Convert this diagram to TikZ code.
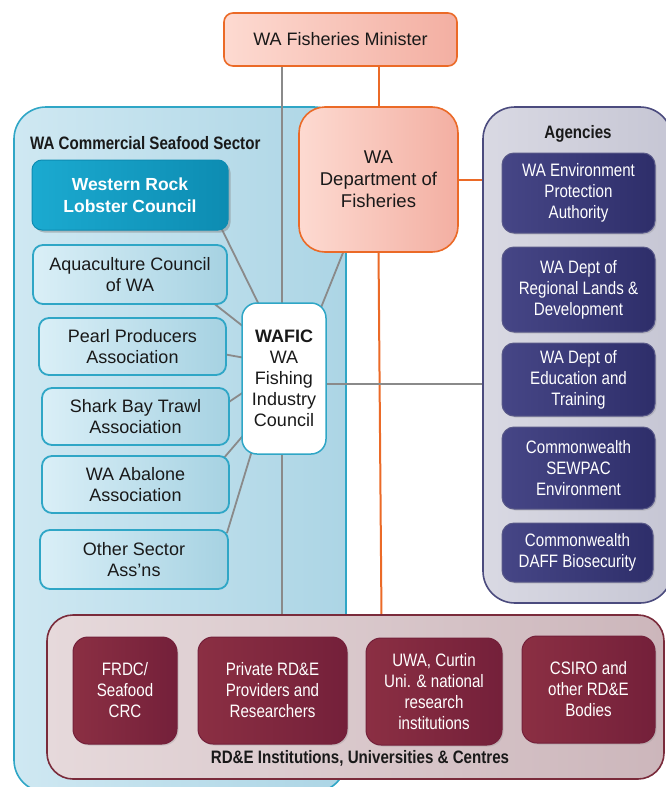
\documentclass[tikz,border=0pt]{standalone}
\usepackage{fontspec}
\setmainfont{Liberation Sans}
\newfontfamily\narf[FakeStretch=0.84]{Liberation Sans}
\usetikzlibrary{calc,shadows}
\pgfdeclarelayer{bg}
\pgfdeclarelayer{lines}
\pgfsetlayers{bg,lines,main}
\definecolor{orng}{HTML}{EB6A27}
\definecolor{salL}{HTML}{FDDAD1}
\definecolor{salR}{HTML}{F3AFA2}
\definecolor{teal}{HTML}{2FA6C6}
\definecolor{secL}{HTML}{CFE8F2}
\definecolor{secR}{HTML}{ACD5E5}
\definecolor{sbL}{HTML}{DAEFF7}
\definecolor{sbR}{HTML}{A6D2E2}
\definecolor{lobL}{HTML}{1BAAD0}
\definecolor{lobR}{HTML}{0D8CB2}
\definecolor{agBd}{HTML}{4B4B7E}
\definecolor{agL}{HTML}{D9D9E3}
\definecolor{agR}{HTML}{C6C6D4}
\definecolor{navL}{HTML}{464686}
\definecolor{navR}{HTML}{2E2E6A}
\definecolor{rdBd}{HTML}{7A2B3B}
\definecolor{rdL}{HTML}{E6D9DB}
\definecolor{rdR}{HTML}{CCB6BB}
\definecolor{marL}{HTML}{8B2F43}
\definecolor{marR}{HTML}{74203A}
\definecolor{lgray}{HTML}{8A8A8A}
\begin{document}
\begin{tikzpicture}[x=1pt,y=-1pt,
  txt/.style={font=\fontsize{18}{21.5}\selectfont, align=center, inner sep=0pt},
  ntxt/.style={font=\narf\fontsize{18}{21}\selectfont, align=center, inner sep=0pt},
  ttl/.style={font=\narf\bfseries\fontsize{18}{21}\selectfont, inner sep=0pt, text=black!90},
  salbox/.style={txt, draw=orng, line width=1.6pt, left color=salL, right color=salR, text=black!90},
  container/.style={draw, line width=1.6pt, rounded corners=32pt},
  secbox/.style={txt, draw=teal, line width=1.8pt, rounded corners=10pt, left color=sbL, right color=sbR, text=black!90},
  agbox/.style={ntxt, draw=navR!80, line width=1pt, rounded corners=12pt, left color=navL, right color=navR, text=white,
     drop shadow={shadow xshift=1.5pt, shadow yshift=-1.5pt, opacity=0.25}},
  rdbox/.style={ntxt, draw=marR, line width=1pt, rounded corners=15pt, left color=marL, right color=marR, text=white,
     drop shadow={shadow xshift=1.5pt, shadow yshift=-1.5pt, opacity=0.25}},
  gline/.style={draw=lgray, line width=1.8pt},
  oline/.style={draw=orng, line width=2pt}
]
\useasboundingbox (0,0) rectangle (665,787);

% containers
\begin{pgfonlayer}{bg}
\node[container, draw=teal, left color=secL, right color=secR, minimum width=332pt, minimum height=685pt] (sector) at (180,449.5) {};
\node[container, draw=agBd, left color=agL, right color=agR, minimum width=189pt, minimum height=496pt] (agencies) at (577.5,355) {};
\end{pgfonlayer}

% top
\node[salbox, rounded corners=9pt, minimum width=233pt, minimum height=53pt] (minister) at (340.5,39.5) {WA Fisheries Minister};
\node[salbox, rounded corners=26pt, minimum width=159pt, minimum height=145pt, font=\fontsize{18.5}{22}\selectfont] (dept) at (378.5,179.5) {WA\\Department of\\Fisheries};

% titles
\node[ttl, anchor=west] (sectitle) at (30,143) {WA Commercial Seafood Sector};
\node[ttl] (agtitle) at (578,133.5) {Agencies};

% sector boxes
\node[txt, draw=lobR, line width=1pt, rounded corners=10pt, left color=lobL, right color=lobR, text=white,
  font=\bfseries\fontsize{17.5}{22}\selectfont, minimum width=196pt, minimum height=70pt,
  drop shadow={shadow xshift=2.5pt, shadow yshift=-2.5pt, opacity=0.45}] (lobster) at (130,195) {Western Rock\\Lobster Council};
\node[secbox, minimum width=194pt, minimum height=59pt] (aqua) at (130,274.5) {Aquaculture Council\\of WA};
\node[secbox, minimum width=187pt, minimum height=57pt] (pearl) at (132.5,346.5) {Pearl Producers\\Association};
\node[secbox, minimum width=187pt, minimum height=57pt] (shark) at (135.5,416.5) {Shark Bay Trawl\\Association};
\node[secbox, minimum width=187pt, minimum height=57pt] (abalone) at (135.5,484.5) {WA Abalone\\Association};
\node[secbox, minimum width=188pt, minimum height=59pt] (other) at (134,559.5) {Other Sector\\Ass’ns};

% WAFIC
\node[txt, draw=teal, line width=1.5pt, rounded corners=15pt, fill=white, text=black!90, font=\fontsize{18}{21}\selectfont,
  minimum width=84pt, minimum height=151pt] (wafic) at (284,378.5) {\textbf{WAFIC}\\WA\\Fishing\\Industry\\Council};

% agencies
\node[agbox, minimum width=153pt, minimum height=80pt] (ag1) at (578.5,193) {WA Environment\\Protection\\Authority};
\node[agbox, minimum width=153pt, minimum height=85pt] (ag2) at (578.5,289.5) {WA Dept of\\Regional Lands \&\\Development};
\node[agbox, minimum width=153pt, minimum height=73pt] (ag3) at (578.5,379.5) {WA Dept of\\Education and\\Training};
\node[agbox, minimum width=153pt, minimum height=82pt] (ag4) at (578.5,468) {Commonwealth\\SEWPAC\\Environment};
\node[agbox, minimum width=151pt, minimum height=59pt] (ag5) at (577.5,552.5) {Commonwealth\\DAFF Biosecurity};

% RD&E
\node[container, rounded corners=26pt, draw=rdBd, left color=rdL, right color=rdR, minimum width=617pt, minimum height=164pt] (rde) at (355.5,697) {};
\node[ttl] (rdtitle) at (360,758) {RD\&E Institutions, Universities \& Centres};
\node[rdbox, minimum width=104pt, minimum height=107pt] (r1) at (125,690.5) {FRDC/\\Seafood\\CRC};
\node[rdbox, minimum width=149pt, minimum height=107pt] (r2) at (272.5,690.5) {Private RD\&E\\Providers and\\Researchers};
\node[rdbox, minimum width=136pt, minimum height=107pt] (r3) at (434,691.5) {UWA, Curtin\\Uni. \& national\\research\\institutions};
\node[rdbox, minimum width=133pt, minimum height=107pt] (r4) at (588.5,689.5) {CSIRO and\\other RD\&E\\Bodies};

% connectors
\begin{pgfonlayer}{lines}
\coordinate (gtop) at ($(minister.south west)+(59,-4)$);
\draw[gline] (gtop) -- (gtop |- rde.north);
\draw[oline] ($(dept.north)+(0,4)$) -- (dept.north |- minister.south);
\draw[oline] ($(dept.south)+(0,-4)$) -- ($(dept.south |- rde.north)+(3,4)$);
\draw[oline] (dept.east) -- (dept.east -| agencies.west);
\coordinate (wr) at ($(wafic.east)+(-3,5.5)$);
\draw[gline] (wr) -- (wr -| agencies.west);
\draw[gline] ($(lobster.south east)+(-8,-4)$) -- ($(wafic.north west)+(19,5)$);
\draw[gline] ($(aqua.south east)+(-16,-3)$) -- ($(wafic.north west)+(3,25)$);
\draw[gline] ($(pearl.east)+(-4,7.5)$) -- ($(wafic.west)+(4,-20.5)$);
\draw[gline] ($(shark.east)+(-4,-12.5)$) -- ($(wafic.west)+(4,12.5)$);
\draw[gline] ($(abalone.north east)+(-7,4)$) -- ($(wafic.west)+(4,54.5)$);
\draw[gline] ($(other.north east)+(-2,4)$) -- ($(wafic.south west)+(11,-5)$);
\draw[gline] ($(wafic.north east)+(-6,6)$) -- ($(dept.south west)+(46,-3)$);
\end{pgfonlayer}
\end{tikzpicture}
\end{document}
